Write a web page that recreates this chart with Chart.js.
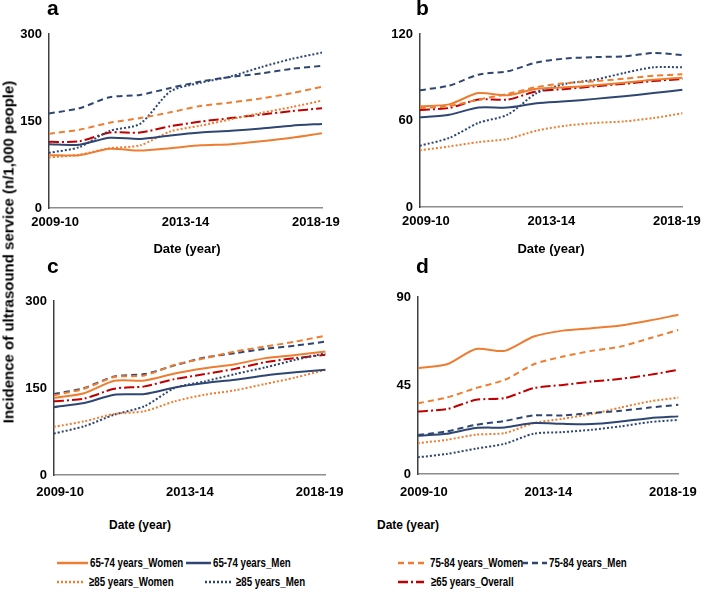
<!DOCTYPE html>
<html>
<head>
<meta charset="utf-8">
<script src="https://cdn.jsdelivr.net/npm/chart.js@4.4.1/dist/chart.umd.min.js"></script>
<style>
  body { margin: 0; background: #fff; font-family: "Liberation Sans", Arial, sans-serif; }
  #wrap { position: relative; width: 708px; height: 600px; overflow: hidden; }
  #wrap canvas { position: absolute; }
  .txt { position: absolute; font-weight: bold; color: #000; white-space: nowrap; line-height: 1; }
  .letter { font-size: 21px; }
  .xtitle { font-size: 13px; transform: translateX(-50%); }
  .ytitle { font-size: 15px; left: 8px; top: 252px; transform: translate(-50%, -50%) rotate(-90deg); }
  .leg { position: absolute; font-weight: bold; font-size: 13.5px; white-space: nowrap; line-height: 14px; }
  .leg svg { position: absolute; top: 4px; }
  .leg span { position: absolute; top: 0; transform: scaleX(0.72); transform-origin: 0 50%; }
</style>
</head>
<body>
<div id="wrap">
  <canvas id="chartA" width="354" height="240" style="left:0;top:0"></canvas>
  <canvas id="chartB" width="354" height="240" style="left:354px;top:0"></canvas>
  <canvas id="chartC" width="354" height="270" style="left:0;top:240px"></canvas>
  <canvas id="chartD" width="354" height="270" style="left:354px;top:240px"></canvas>

  <div class="txt letter" style="left:47px;top:-3px">a</div>
  <div class="txt letter" style="left:416px;top:-3px">b</div>
  <div class="txt letter" style="left:47px;top:255px">c</div>
  <div class="txt letter" style="left:416px;top:255px">d</div>

  <div class="txt xtitle" style="left:187px;top:242px">Date (year)</div>
  <div class="txt xtitle" style="left:551px;top:242px">Date (year)</div>
  <div class="txt xtitle" style="left:140px;top:519px;font-size:12px">Date (year)</div>
  <div class="txt xtitle" style="left:408px;top:519px;font-size:12px">Date (year)</div>

  <div class="txt ytitle">Incidence of ultrasound service (n/1,000 people)</div>
  <div id="legend"></div>
</div>
<script>
// years on the x axis, only three of them are labelled
const years = ['2009-10', '2010-11', '2011-12', '2012-13', '2013-14',
  '2014-15', '2015-16', '2016-17', '2017-18', '2018-19'];
const tickLabels = ['2009-10', '2013-14', '2018-19'];
const tickPos = [0.2, 4.5, 8.8];

const seriesNames = ['65-74 years_Women', '65-74 years_Men', '75-84 years_Women',
  '75-84 years_Men', '\u226585 years_Women', '\u226585 years_Men', '\u226565 years_Overall'];
const seriesColors = ['#ED7D31', '#2F4672', '#ED7D31', '#2F4672', '#ED7D31', '#2F4672', '#C00000'];
const seriesDash = [[], [], [6, 4], [6, 4], [2, 2], [2, 2], [10, 3, 2, 3]];

// values per panel, same order as seriesNames
const panelA = [
  [91, 91, 102, 99, 103, 108, 110, 115, 121, 129],
  [110, 109, 121, 119, 125, 130, 133, 137, 142, 145],
  [128, 135, 147, 155, 165, 176, 182, 189, 198, 209],
  [163, 172, 191, 195, 207, 218, 226, 232, 240, 245],
  [87, 92, 103, 108, 132, 142, 153, 164, 174, 185],
  [95, 105, 133, 145, 201, 216, 227, 243, 257, 268],
  [114, 115, 130, 130, 141, 149, 155, 161, 167, 172]
];
const panelB = [
  [69.8, 71.2, 79, 77.5, 82, 83, 84.4, 86.2, 88.3, 89.7],
  [62.2, 64, 69, 69, 72, 73.3, 75, 76.8, 79, 81.4],
  [68.7, 70, 74.5, 78.4, 83.2, 86, 87.2, 89, 91, 92],
  [81, 84.2, 91.8, 94.1, 100.3, 103, 104, 104.5, 106.8, 105.4],
  [39.3, 42, 45, 47.2, 53, 56.4, 58.3, 59.4, 61.7, 65],
  [42.5, 47.9, 58.3, 64, 79, 85.5, 88.3, 93, 96.9, 96.9],
  [67.3, 68.7, 74.5, 74.5, 80.2, 81.9, 83.7, 85.5, 87.4, 88.8]
];
const panelC = [
  [132.8, 141, 162.6, 163, 175, 184, 191, 201.5, 207, 213],
  [117, 124, 138.5, 139.7, 151, 158.6, 164.3, 171.7, 177, 181.5],
  [137.4, 148.8, 169, 171.7, 190, 201.5, 213, 221.5, 230, 240.4],
  [139.7, 150, 170, 174, 189, 202.6, 210, 217.5, 223, 230],
  [83, 92.5, 105.3, 110, 127, 138.5, 146, 157, 168, 181.5],
  [71.5, 84, 104, 118.5, 150, 161.4, 174, 185.5, 198.6, 210],
  [127, 131.7, 148.8, 152.8, 165.4, 174, 183, 194.5, 201.5, 207.3]
];
const panelD = [
  [53.8, 55.8, 63.6, 62.6, 69.9, 72.9, 74.1, 75.5, 78, 81],
  [19.5, 20.5, 23.4, 23.7, 25.9, 25.5, 25.4, 26.7, 28.4, 29.3],
  [36, 38.9, 43.7, 47.9, 55.8, 59.7, 62.6, 64.8, 69, 73.3],
  [19.8, 21.7, 25, 27, 29.8, 29.8, 31, 32.1, 33.8, 35.2],
  [15.7, 17.4, 20, 20.8, 25.9, 28.1, 30.5, 33.8, 36.9, 38.9],
  [8.5, 10.2, 12.9, 15.4, 20.5, 21.3, 22.5, 24.2, 26.4, 27.5],
  [31.8, 33, 37.7, 38.6, 43.7, 45.3, 47, 48.4, 50.4, 53]
];

Chart.defaults.font.family = '"Liberation Sans", Arial, sans-serif';
const tickFont = { size: 13, weight: 'bold' };

function makePanel(id, values, yMax, box) {
  const ctx = document.getElementById(id).getContext('2d');
  return new Chart(ctx, {
    type: 'line',
    data: {
      datasets: seriesNames.map((name, k) => ({
        label: name,
        data: values[k].map((v, i) => ({ x: i, y: v })),
        borderColor: seriesColors[k],
        backgroundColor: seriesColors[k],
        borderDash: seriesDash[k],
        borderWidth: 2,
        pointRadius: 0,
        tension: 0.25,
        fill: false
      }))
    },
    options: {
      responsive: false,
      animation: false,
      layout: { padding: { left: 0, top: box.top, right: box.right, bottom: 0 } },
      plugins: { legend: { display: false }, tooltip: { enabled: false } },
      scales: {
        x: {
          type: 'linear',
          min: 0,
          max: years.length - 1,
          grid: { display: false, drawTicks: false },
          border: { color: '#8c8c8c', width: 1.5 },
          afterBuildTicks: s => { s.ticks = tickPos.map(v => ({ value: v })); },
          afterFit: s => { s.height = box.xh; },
          ticks: {
            padding: box.xpad, maxRotation: 0, autoSkip: false, color: '#000', font: tickFont,
            callback: (v, i) => tickLabels[i]
          }
        },
        y: {
          min: 0,
          max: yMax,
          grid: { display: false, drawTicks: false },
          border: { color: '#404040', width: 1.5 },
          afterFit: s => { s.width = box.left; },
          ticks: { stepSize: yMax / 2, padding: 7, color: '#000', font: tickFont }
        }
      }
    }
  });
}

makePanel('chartA', panelA, 300, { left: 49, top: 34, right: 32, xh: 32, xpad: 7 });
makePanel('chartB', panelB, 120, { left: 66, top: 34, right: 17, xh: 33, xpad: 7 });
makePanel('chartC', panelC, 300, { left: 54, top: 61, right: 27, xh: 35, xpad: 10 });
makePanel('chartD', panelD, 90, { left: 64, top: 57, right: 17, xh: 36, xpad: 11 });

// legend built by hand below the panels: line start, row y, line length, text start
const legendSlots = [[57, 563, 31, 90], [186, 563, 25, 213], [398, 563, 30, 430], [522, 563, 25, 549],
  [57, 582, 27, 89], [205, 582, 26, 236], [398, 582, 26, 431]];
const legendBox = document.getElementById('legend');
seriesNames.forEach((name, k) => {
  const [x, y, len, tx] = legendSlots[k];
  const item = document.createElement('div');
  item.className = 'leg';
  item.style.left = x + 'px';
  item.style.top = (y - 7) + 'px';
  const dash = seriesDash[k].length ? seriesDash[k].join(',') : 'none';
  item.innerHTML = '<svg width="' + len + '" height="6"><line x1="0" y1="3" x2="' + len +
    '" y2="3" stroke="' + seriesColors[k] + '" stroke-width="2.5" stroke-dasharray="' + dash +
    '"/></svg><span style="left:' + (tx - x) + 'px">' + name + '</span>';
  legendBox.appendChild(item);
});
</script>
</body>
</html>
